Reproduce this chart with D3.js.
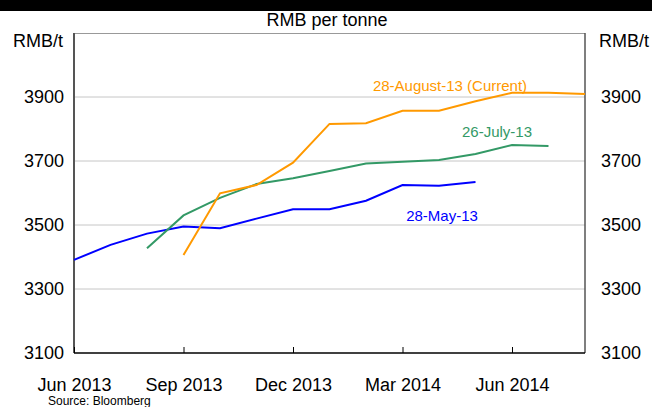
<!DOCTYPE html>
<html>
<head>
<meta charset="utf-8">
<script src="https://cdn.jsdelivr.net/npm/d3@7"></script>
<style>
  body { margin: 0; background: #fff; }
  svg { display: block; font-family: "Liberation Sans", Arial, sans-serif; }
</style>
</head>
<body>
<svg id="chart"></svg>
<script>
// months on the x axis, Jun 2013 .. Aug 2014
const months = ["2013-06", "2013-07", "2013-08", "2013-09", "2013-10", "2013-11", "2013-12",
  "2014-01", "2014-02", "2014-03", "2014-04", "2014-05", "2014-06", "2014-07", "2014-08"];
const tickMonths = ["2013-06", "2013-09", "2013-12", "2014-03", "2014-06"];
const tickLabels = ["Jun 2013", "Sep 2013", "Dec 2013", "Mar 2014", "Jun 2014"];
const yTicks = [3100, 3300, 3500, 3700, 3900];

// futures curves, one value per contract month starting at the given month
const mayMonths = months.slice(0, 12);
const mayValues = [3391, 3438, 3473, 3495, 3490, 3520, 3549, 3549, 3576, 3625, 3623, 3634];
const julyMonths = months.slice(2, 14);
const julyValues = [3427, 3530, 3585, 3628, 3646, 3669, 3692, 3698, 3703, 3722, 3750, 3747];
const augMonths = months.slice(3, 15);
const augValues = [3406, 3599, 3625, 3695, 3816, 3818, 3857, 3857, 3887, 3913, 3913, 3909];

const width = 652, height = 407;
const plotL = 74, plotR = 585, plotT = 33, plotB = 353;

const svg = d3.select("#chart").attr("width", width).attr("height", height);

// black band across the top
svg.append("rect").attr("x", 0).attr("y", 0).attr("width", width).attr("height", 11).attr("fill", "#000");

const x = d3.scalePoint().domain(months).range([plotL, plotR]);
const y = d3.scaleLinear().domain([3100, 4100]).range([plotB, plotT]);

// gridlines
svg.append("g")
  .selectAll("line")
  .data(yTicks.slice(1))
  .join("line")
  .attr("x1", plotL).attr("x2", plotR)
  .attr("y1", d => y(d)).attr("y2", d => y(d))
  .attr("stroke", "#c6c6c6").attr("stroke-width", 1);

// frame
svg.append("line").attr("x1", plotL).attr("x2", plotR).attr("y1", plotT + 0.5).attr("y2", plotT + 0.5)
  .attr("stroke", "#999").attr("stroke-width", 1);
svg.append("line").attr("x1", plotR).attr("x2", plotR).attr("y1", plotT).attr("y2", plotB)
  .attr("stroke", "#555").attr("stroke-width", 1.5);
svg.append("line").attr("x1", plotL).attr("x2", plotL).attr("y1", plotT).attr("y2", plotB)
  .attr("stroke", "#555").attr("stroke-width", 2);

// bottom axis with ticks pointing up
const xAxis = d3.axisBottom(x)
  .tickValues(tickMonths)
  .tickSize(-6)
  .tickFormat(d => tickLabels[tickMonths.indexOf(d)]);
const gx = svg.append("g").attr("transform", `translate(0,${plotB})`).call(xAxis);
gx.select(".domain").attr("stroke", "#000").attr("stroke-width", 1.5).attr("d", `M${plotL},0H${plotR}`);
gx.selectAll(".tick line").attr("stroke", "#000");
gx.selectAll(".tick text")
  .attr("y", 25).attr("dy", "0.71em")
  .attr("font-size", 18).attr("fill", "#000")
  .attr("font-family", "Liberation Sans, Arial, sans-serif");

// y tick labels on both sides
const yl = d3.axisLeft(y).tickValues(yTicks).tickSize(0).tickPadding(10).tickFormat(d3.format("d"));
const gyl = svg.append("g").attr("transform", `translate(${plotL},0)`).call(yl);
gyl.select(".domain").remove();
gyl.selectAll(".tick text").attr("font-size", 18).attr("fill", "#000")
  .attr("font-family", "Liberation Sans, Arial, sans-serif");

const yr = d3.axisRight(y).tickValues(yTicks).tickSize(0).tickPadding(16).tickFormat(d3.format("d"));
const gyr = svg.append("g").attr("transform", `translate(${plotR},0)`).call(yr);
gyr.select(".domain").remove();
gyr.selectAll(".tick text").attr("font-size", 18).attr("fill", "#000")
  .attr("font-family", "Liberation Sans, Arial, sans-serif");

// titles
svg.append("text").attr("x", 327).attr("y", 26).attr("text-anchor", "middle")
  .attr("font-size", 18).text("RMB per tonne");
svg.append("text").attr("x", 13).attr("y", 47).attr("font-size", 18).text("RMB/t");
svg.append("text").attr("x", 599).attr("y", 47).attr("font-size", 18).text("RMB/t");
svg.append("text").attr("x", 48).attr("y", 405).attr("font-size", 12).text("Source: Bloomberg");

// series
const series = [
  { name: "28-May-13", months: mayMonths, values: mayValues, color: "#0000ff", lx: 442, ly: 221 },
  { name: "26-July-13", months: julyMonths, values: julyValues, color: "#339966", lx: 497, ly: 137 },
  { name: "28-August-13 (Current)", months: augMonths, values: augValues, color: "#ff9900", lx: 450, ly: 91 }
];

const line = d3.line().x(d => x(d[0])).y(d => y(d[1]));

series.forEach(s => {
  svg.append("path")
    .datum(d3.zip(s.months, s.values))
    .attr("d", line)
    .attr("fill", "none")
    .attr("stroke", s.color)
    .attr("stroke-width", 2);
  svg.append("text")
    .attr("x", s.lx).attr("y", s.ly)
    .attr("text-anchor", "middle")
    .attr("font-size", 15)
    .attr("fill", s.color)
    .text(s.name);
});
</script>
</body>
</html>
